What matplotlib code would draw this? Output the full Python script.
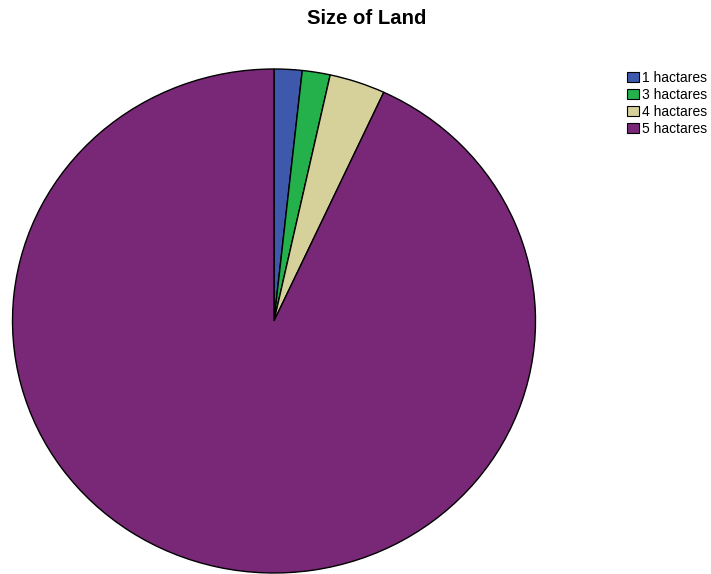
import matplotlib
matplotlib.use("Agg")
import matplotlib.pyplot as plt
from matplotlib.patches import Patch

plt.rcParams['font.family'] = ['Liberation Sans', 'DejaVu Sans']

categories = ["1 hactares", "3 hactares", "4 hactares", "5 hactares"]
counts = [1, 1, 2, 54]
colors = ["#3E58AC", "#24B04B", "#D6D09B", "#792878"]

W, H = 711, 574
fig = plt.figure(figsize=(W/100, H/100), dpi=100)
left, right, top, bottom = 12.5, 535.5, 69, 573
ax = fig.add_axes([left/W, (H-bottom)/H, (right-left)/W, (bottom-top)/H])
ax.pie(counts, colors=colors, startangle=90, counterclock=False,
       wedgeprops=dict(edgecolor="black", linewidth=1.0))
ax.set_aspect('auto')
ax.set_xlim(-1, 1)
ax.set_ylim(-1, 1)
ax.axis('off')

fig.text(367/W, 1 - 18.5/H, "Size of Land", ha="center", va="center",
         fontsize=14.6, fontweight="bold")

handles = [Patch(facecolor=c, edgecolor="black", linewidth=0.8) for c in colors]
fig.legend(handles, categories, loc="upper left", bbox_to_anchor=(627/W, 1 - 71/H),
           frameon=False, fontsize=10, handlelength=0.86, handleheight=0.75,
           handletextpad=0.2, labelspacing=0.22, borderaxespad=0, borderpad=0)

fig.savefig("out.png", dpi=100)
